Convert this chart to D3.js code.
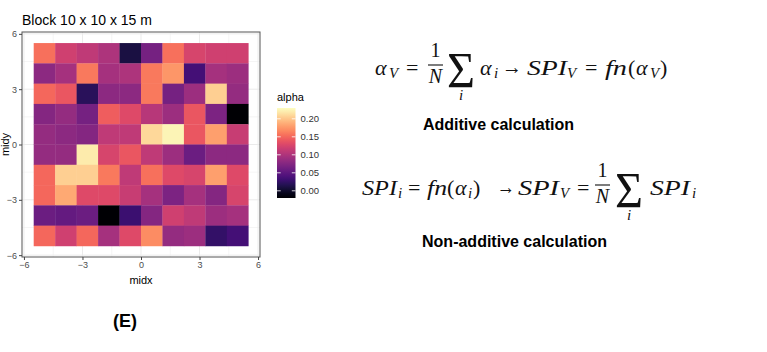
<!DOCTYPE html>
<html>
<head>
<meta charset="utf-8">
<script src="https://cdn.jsdelivr.net/npm/d3@7"></script>
<style>
  body { margin: 0; background: #fff; }
  svg { display: block; }
  text { font-family: "Liberation Sans", Arial, sans-serif; }
  .math { font-family: "Liberation Serif", "DejaVu Serif", serif; }
</style>
</head>
<body>
<div id="chart"></div>
<script>
// grid centres (m) and alpha values, rows listed from top (midy high) to bottom
const midx = [-4.95, -3.85, -2.75, -1.65, -0.55, 0.55, 1.65, 2.75, 3.85, 4.95];
const midy = [4.95, 3.85, 2.75, 1.65, 0.55, -0.55, -1.65, -2.75, -3.85, -4.95];
const alphaRows = [
    [0.155, 0.120, 0.110, 0.100, 0.010, 0.065, 0.155, 0.125, 0.120, 0.120],
    [0.080, 0.095, 0.160, 0.095, 0.100, 0.160, 0.175, 0.035, 0.095, 0.090],
    [0.150, 0.140, 0.020, 0.080, 0.080, 0.160, 0.065, 0.090, 0.205, 0.085],
    [0.075, 0.085, 0.065, 0.145, 0.130, 0.105, 0.090, 0.140, 0.070, -0.020],
    [0.085, 0.080, 0.075, 0.110, 0.110, 0.210, 0.225, 0.140, 0.180, 0.115],
    [0.085, 0.085, 0.220, 0.125, 0.140, 0.110, 0.090, 0.060, 0.080, 0.080],
    [0.150, 0.205, 0.205, 0.160, 0.110, 0.155, 0.130, 0.125, 0.180, 0.130],
    [0.150, 0.185, 0.130, 0.130, 0.115, 0.095, 0.070, 0.095, 0.075, 0.125],
    [0.060, 0.055, 0.060, -0.020, 0.030, 0.075, 0.120, 0.110, 0.090, 0.095],
    [0.150, 0.120, 0.150, 0.095, 0.130, 0.170, 0.085, 0.090, 0.025, 0.035]
];
const axisTicks = [-6, -3, 0, 3, 6];
const minorTicks = [-4.5, -1.5, 1.5, 4.5];
const legendTicks = [0, 0.05, 0.10, 0.15, 0.20];
const alphaRange = [-0.02, 0.23];
const cellSize = 1.1;

const W = 767, H = 352;
const svg = d3.select("#chart").append("svg")
    .attr("width", W)
    .attr("height", H);

const x = d3.scaleLinear().domain([-6.1, 6.1]).range([22, 260]);
const y = d3.scaleLinear().domain([-6.1, 6.1]).range([257, 32]);
const color = d3.scaleSequential(d3.interpolateMagma).domain(alphaRange);

const cells = [];
alphaRows.forEach((row, r) => row.forEach((v, c) => cells.push({ x: midx[c], y: midy[r], alpha: v })));

// grid lines
const grid = svg.append("g");
minorTicks.forEach(t => {
    grid.append("line").attr("x1", x(t)).attr("x2", x(t)).attr("y1", y.range()[0]).attr("y2", y.range()[1])
        .attr("stroke", "#ebebeb").attr("stroke-width", 0.5);
    grid.append("line").attr("y1", y(t)).attr("y2", y(t)).attr("x1", x.range()[0]).attr("x2", x.range()[1])
        .attr("stroke", "#ebebeb").attr("stroke-width", 0.5);
});
axisTicks.forEach(t => {
    grid.append("line").attr("x1", x(t)).attr("x2", x(t)).attr("y1", y.range()[0]).attr("y2", y.range()[1])
        .attr("stroke", "#ebebeb").attr("stroke-width", 1);
    grid.append("line").attr("y1", y(t)).attr("y2", y(t)).attr("x1", x.range()[0]).attr("x2", x.range()[1])
        .attr("stroke", "#ebebeb").attr("stroke-width", 1);
});

// tiles
svg.append("g")
    .selectAll("rect")
    .data(cells)
    .enter()
    .append("rect")
    .attr("x", d => x(d.x - cellSize / 2))
    .attr("y", d => y(d.y + cellSize / 2))
    .attr("width", d => x(d.x + cellSize / 2) - x(d.x - cellSize / 2) + 0.3)
    .attr("height", d => y(d.y - cellSize / 2) - y(d.y + cellSize / 2) + 0.3)
    .attr("fill", d => color(d.alpha));

// panel border
svg.append("rect")
    .attr("x", x.range()[0]).attr("y", y.range()[1])
    .attr("width", x.range()[1] - x.range()[0])
    .attr("height", y.range()[0] - y.range()[1])
    .attr("fill", "none").attr("stroke", "#555").attr("stroke-width", 1);

// axes
const xAxis = svg.append("g")
    .attr("transform", `translate(0,${y.range()[0]})`)
    .call(d3.axisBottom(x).tickValues(axisTicks).tickSize(3).tickPadding(2).tickFormat(d3.format("d")));
const yAxis = svg.append("g")
    .attr("transform", `translate(${x.range()[0]},0)`)
    .call(d3.axisLeft(y).tickValues(axisTicks).tickSize(3).tickPadding(2).tickFormat(d3.format("d")));
[xAxis, yAxis].forEach(a => {
    a.select(".domain").remove();
    a.selectAll(".tick line").attr("stroke", "#444");
    a.selectAll(".tick text").attr("fill", "#4d4d4d").attr("font-size", "9px")
        .attr("font-family", "Liberation Sans, Arial, sans-serif");
});

svg.append("text")
    .attr("x", 22).attr("y", 25)
    .attr("font-size", "14px").attr("fill", "#000")
    .text("Block 10 x 10 x 15 m");

svg.append("text")
    .attr("x", (x.range()[0] + x.range()[1]) / 2).attr("y", 284)
    .attr("text-anchor", "middle").attr("font-size", "11px")
    .text("midx");

svg.append("text")
    .attr("transform", `translate(9,${(y.range()[0] + y.range()[1]) / 2}) rotate(-90)`)
    .attr("text-anchor", "middle").attr("font-size", "11px")
    .text("midy");

// legend
const legY = d3.scaleLinear().domain(alphaRange).range([198, 108]);
const defs = svg.append("defs");
const grad = defs.append("linearGradient").attr("id", "alphaGrad")
    .attr("x1", 0).attr("y1", 1).attr("x2", 0).attr("y2", 0);
d3.range(0, 1.0001, 0.05).forEach(t => {
    grad.append("stop").attr("offset", t)
        .attr("stop-color", color(alphaRange[0] + t * (alphaRange[1] - alphaRange[0])));
});
const legX = 277, legW = 18.5;
svg.append("text").attr("x", legX).attr("y", 101).attr("font-size", "11px").text("alpha");
svg.append("rect")
    .attr("x", legX).attr("y", legY.range()[1])
    .attr("width", legW).attr("height", legY.range()[0] - legY.range()[1])
    .attr("fill", "url(#alphaGrad)");
const lt = svg.append("g");
legendTicks.forEach(v => {
    lt.append("line").attr("x1", legX).attr("x2", legX + 3.7).attr("y1", legY(v)).attr("y2", legY(v))
        .attr("stroke", "#fff").attr("stroke-width", 0.8);
    lt.append("line").attr("x1", legX + legW - 3.7).attr("x2", legX + legW).attr("y1", legY(v)).attr("y2", legY(v))
        .attr("stroke", "#fff").attr("stroke-width", 0.8);
    lt.append("text").attr("x", legX + legW + 5).attr("y", legY(v)).attr("dy", "0.35em")
        .attr("font-size", "9.5px").attr("fill", "#333")
        .text(d3.format(".2f")(v));
});

// equations
const eq = svg.append("g").attr("class", "math");
function put(str, px, py, opts = {}) {
    const t = eq.append("text")
        .attr("class", "math")
        .attr("x", px).attr("y", py)
        .attr("font-size", (opts.size || 22) + "px")
        .attr("font-style", opts.italic ? "italic" : "normal")
        .attr("text-anchor", opts.anchor || "start")
        .attr("fill", "#111")
        .text(str);
    if (opts.len) t.attr("textLength", opts.len).attr("lengthAdjust", "spacingAndGlyphs");
    return t;
}
function frac(cx, B, w) {
    put("1", cx, B - 18, { size: 20, anchor: "middle" });
    eq.append("line").attr("x1", cx - w / 2).attr("x2", cx + w / 2)
        .attr("y1", B - 10).attr("y2", B - 10).attr("stroke", "#111").attr("stroke-width", 1.1);
    put("N", cx, B + 8, { size: 20, italic: true, anchor: "middle" });
}
function sum(px, B) {
    put("\u03A3", px, B + 12, { size: 50, len: 28 });
    put("i", px + 14, B + 25, { size: 15, italic: true, anchor: "middle" });
}

// additive
let B = 75;
put("\u03b1", 375, B, { italic: true });
put("V", 389, B + 3, { size: 15, italic: true });
put("=", 406, B);
frac(435.5, B, 15);
sum(447, B);
put("\u03b1", 480, B, { italic: true });
put("i", 494, B + 3, { size: 15, italic: true });
put("\u2192", 502, B - 1, { len: 20 });
put("SPI", 527, B, { italic: true, len: 40 });
put("V", 567, B + 3, { size: 15, italic: true });
put("=", 585, B);
put("fn", 605, B, { italic: true, len: 22 });
put("(", 628, B);
put("\u03b1", 636, B, { italic: true });
put("V", 650, B + 3, { size: 15, italic: true });
put(")", 660, B);

svg.append("text").attr("x", 498.5).attr("y", 130)
    .attr("text-anchor", "middle").attr("font-size", "16px").attr("font-weight", "bold")
    .text("Additive calculation");

// non-additive
B = 195;
put("SPI", 362, B, { italic: true, len: 35 });
put("i", 398, B + 3, { size: 15, italic: true });
put("=", 408, B);
put("fn", 427, B, { italic: true, len: 20 });
put("(", 447, B);
put("\u03b1", 455, B, { italic: true });
put("i", 468, B + 3, { size: 15, italic: true });
put(")", 473, B);
put("\u2192", 497, B - 1, { len: 18 });
put("SPI", 518, B, { italic: true, len: 41 });
put("V", 560, B + 3, { size: 15, italic: true });
put("=", 577, B);
frac(602.5, B, 15);
sum(615, B);
put("SPI", 650, B, { italic: true, len: 40 });
put("i", 692, B + 3, { size: 15, italic: true });

svg.append("text").attr("x", 514.5).attr("y", 247)
    .attr("text-anchor", "middle").attr("font-size", "16px").attr("font-weight", "bold")
    .text("Non-additive calculation");

svg.append("text").attr("x", 125).attr("y", 327)
    .attr("text-anchor", "middle").attr("font-size", "18px").attr("font-weight", "bold")
    .text("(E)");
</script>
</body>
</html>
